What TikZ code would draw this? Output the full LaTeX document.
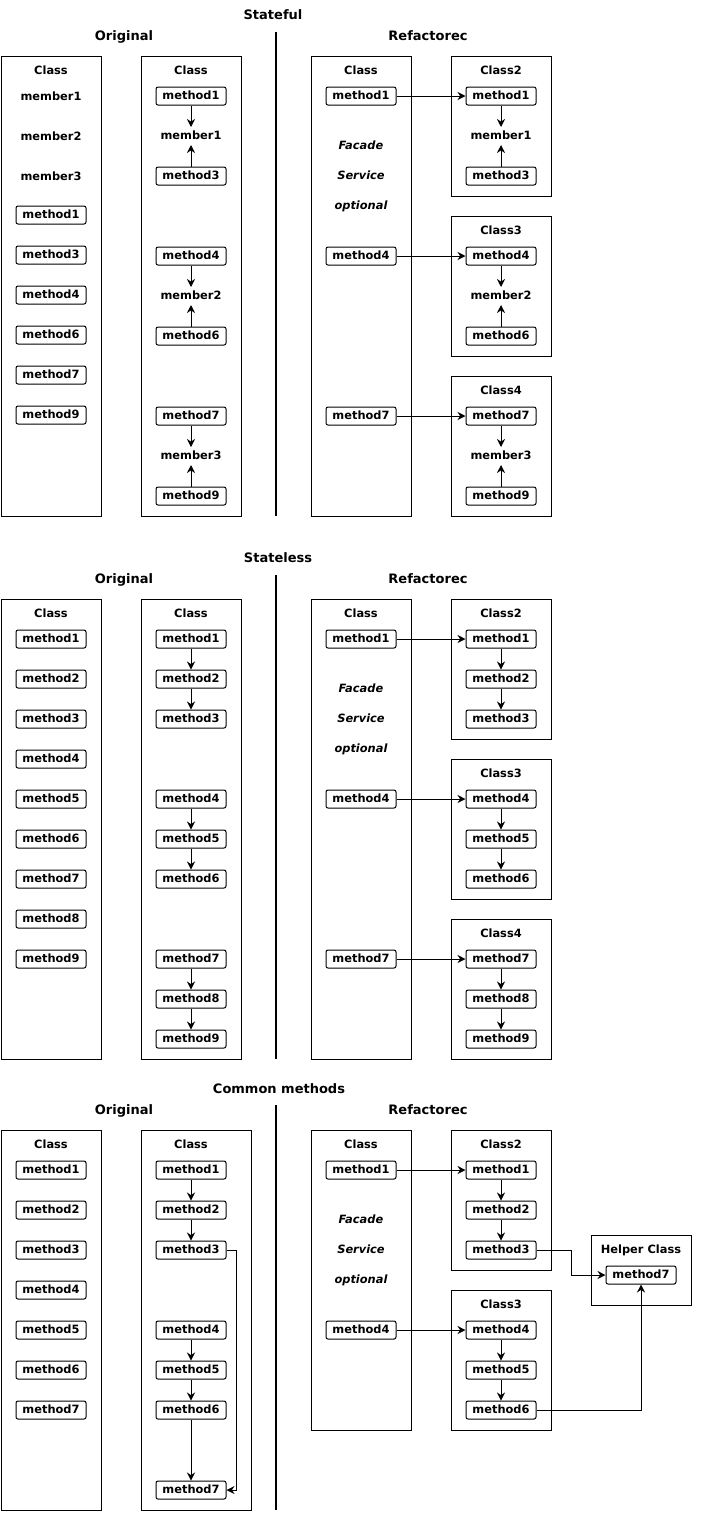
\documentclass[tikz,border=0pt]{standalone}
\usepackage{fontspec}
\setmainfont{DejaVu Sans}
\usetikzlibrary{arrows.meta}

\begin{document}
\begin{tikzpicture}[x=1pt,y=-1pt,
    every node/.style={font=\fontsize{11.4}{13}\selectfont\bfseries,inner sep=0pt,text height=8pt,text depth=2pt},
    box/.style={draw,line width=1pt,minimum width=100pt,anchor=north west},
    meth/.style={draw,line width=1pt,rounded corners=2pt,minimum width=70pt,minimum height=18pt},
    mem/.style={outer sep=4pt},
    note/.style={font=\fontsize{11.4}{13}\selectfont\bfseries\itshape},
    head/.style={font=\fontsize{13}{15}\selectfont\bfseries},
    arr/.style={line width=1pt,-{Stealth[length=8pt,width=8pt]}},
    sep/.style={line width=2pt}]
    \useasboundingbox (0,0) rectangle (708,1513);

    % Stateful
    \node[head] (t1) at (273,16) {Stateful};
    \node[head] (o1) at (124,37) {Original};
    \node[head] (r1) at (428,37) {Refactorec};
    \coordinate (s1top) at (276,32);
    \coordinate (s1bot) at (276,516);
    \draw[sep] (s1top) -- (s1bot);

    \node[box,minimum height=460pt] (a1) at (1,56) {};
    \node (a1c) at (51,71) {Class};
    \foreach \i/\y in {1/97,2/137,3/177}
        \node (a1m\i) at (51,\y) {member\i};
    \foreach \i/\y in {1/215,3/255,4/295,6/335,7/375,9/415}
        \node[meth] (a1f\i) at (51,\y) {method\i};

    \node[box,minimum height=460pt] (b1) at (141,56) {};
    \node (b1c) at (191,71) {Class};
    \foreach \m/\s/\e/\y in {1/1/3/96,2/4/6/256,3/7/9/416}{%
        \node[meth] (b1f\s) at (191,\y) {method\s};
        \node[mem] (b1m\m) at (191,\y+40) {member\m};
        \node[meth] (b1f\e) at (191,\y+80) {method\e};
        \draw[arr] (b1f\s) -- (b1m\m);
        \draw[arr] (b1f\e) -- (b1m\m);
    }

    \node[box,minimum height=460pt] (c1) at (311,56) {};
    \node (c1c) at (361,71) {Class};
    \node[note] (c1n1) at (361,146) {Facade};
    \node[note] (c1n2) at (361,176) {Service};
    \node[note] (c1n3) at (361,206) {optional};

    \foreach \k/\m/\s/\e/\y in {2/1/1/3/96,3/2/4/6/256,4/3/7/9/416}{%
        \node[box,minimum height=140pt] (k1b\k) at (451,\y-40) {};
        \node (k1c\k) at (501,\y-25) {Class\k};
        \node[meth] (k1f\s) at (501,\y) {method\s};
        \node[mem] (k1m\m) at (501,\y+40) {member\m};
        \node[meth] (k1f\e) at (501,\y+80) {method\e};
        \draw[arr] (k1f\s) -- (k1m\m);
        \draw[arr] (k1f\e) -- (k1m\m);
        \node[meth] (c1f\s) at (361,\y) {method\s};
        \draw[arr] (c1f\s) -- (k1f\s);
    }

    % Stateless
    \begin{scope}[yshift=-543pt]
    \node[head] (t2) at (278,16) {Stateless};
    \node[head] (o2) at (124,37) {Original};
    \node[head] (r2) at (428,37) {Refactorec};
    \coordinate (s2top) at (276,32);
    \coordinate (s2bot) at (276,516);
    \draw[sep] (s2top) -- (s2bot);

    \node[box,minimum height=460pt] (a2) at (1,56) {};
    \node (a2c) at (51,71) {Class};
    \foreach \i in {1,...,9}
        \node[meth] (a2f\i) at (51,56+40*\i) {method\i};

    \node[box,minimum height=460pt] (b2) at (141,56) {};
    \node (b2c) at (191,71) {Class};
    \node[box,minimum height=460pt] (c2) at (311,56) {};
    \node (c2c) at (361,71) {Class};
    \node[note] (c2n1) at (361,146) {Facade};
    \node[note] (c2n2) at (361,176) {Service};
    \node[note] (c2n3) at (361,206) {optional};

    \foreach \k/\s/\t/\e/\y in {2/1/2/3/96,3/4/5/6/256,4/7/8/9/416}{%
        \node[meth] (b2f\s) at (191,\y) {method\s};
        \node[meth] (b2f\t) at (191,\y+40) {method\t};
        \node[meth] (b2f\e) at (191,\y+80) {method\e};
        \draw[arr] (b2f\s) -- (b2f\t);
        \draw[arr] (b2f\t) -- (b2f\e);
        \node[box,minimum height=140pt] (k2b\k) at (451,\y-40) {};
        \node (k2c\k) at (501,\y-25) {Class\k};
        \node[meth] (k2f\s) at (501,\y) {method\s};
        \node[meth] (k2f\t) at (501,\y+40) {method\t};
        \node[meth] (k2f\e) at (501,\y+80) {method\e};
        \draw[arr] (k2f\s) -- (k2f\t);
        \draw[arr] (k2f\t) -- (k2f\e);
        \node[meth] (c2f\s) at (361,\y) {method\s};
        \draw[arr] (c2f\s) -- (k2f\s);
    }
    \end{scope}

    % Common methods
    \begin{scope}[yshift=-1074pt]
    \node[head] (t3) at (279,16) {Common methods};
    \node[head] (o3) at (124,37) {Original};
    \node[head] (r3) at (428,37) {Refactorec};
    \coordinate (s3top) at (276,31);
    \coordinate (s3bot) at (276,436);
    \draw[sep] (s3top) -- (s3bot);

    \node[box,minimum height=380pt] (a3) at (1,56) {};
    \node (a3c) at (51,71) {Class};
    \foreach \i in {1,...,7}
        \node[meth] (a3f\i) at (51,56+40*\i) {method\i};

    \node[box,minimum height=380pt,minimum width=110pt] (b3) at (141,56) {};
    \node (b3c) at (191,71) {Class};
    \foreach \i/\y in {1/96,2/136,3/176,4/256,5/296,6/336,7/416}
        \node[meth] (b3f\i) at (191,\y) {method\i};
    \foreach \i/\j in {1/2,2/3,4/5,5/6,6/7}
        \draw[arr] (b3f\i) -- (b3f\j);
    \draw[arr] (b3f3.east) -- ++(10,0) |- (b3f7.east);

    \node[box,minimum height=300pt] (c3) at (311,56) {};
    \node (c3c) at (361,71) {Class};
    \node[note] (c3n1) at (361,146) {Facade};
    \node[note] (c3n2) at (361,176) {Service};
    \node[note] (c3n3) at (361,206) {optional};

    \foreach \k/\s/\t/\e/\y in {2/1/2/3/96,3/4/5/6/256}{%
        \node[box,minimum height=140pt] (k3b\k) at (451,\y-40) {};
        \node (k3c\k) at (501,\y-25) {Class\k};
        \node[meth] (k3f\s) at (501,\y) {method\s};
        \node[meth] (k3f\t) at (501,\y+40) {method\t};
        \node[meth] (k3f\e) at (501,\y+80) {method\e};
        \draw[arr] (k3f\s) -- (k3f\t);
        \draw[arr] (k3f\t) -- (k3f\e);
        \node[meth] (c3f\s) at (361,\y) {method\s};
        \draw[arr] (c3f\s) -- (k3f\s);
    }

    \node[box,minimum height=70pt] (h3) at (591,161) {};
    \node (h3c) at (641,176) {Helper Class};
    \node[meth] (h3f7) at (641,201) {method7};
    \draw[arr] (k3f3.east) -- ++(35,0) |- (h3f7.west);
    \draw[arr] (k3f6.east) -| (h3f7);
    \end{scope}
\end{tikzpicture}
\end{document}
